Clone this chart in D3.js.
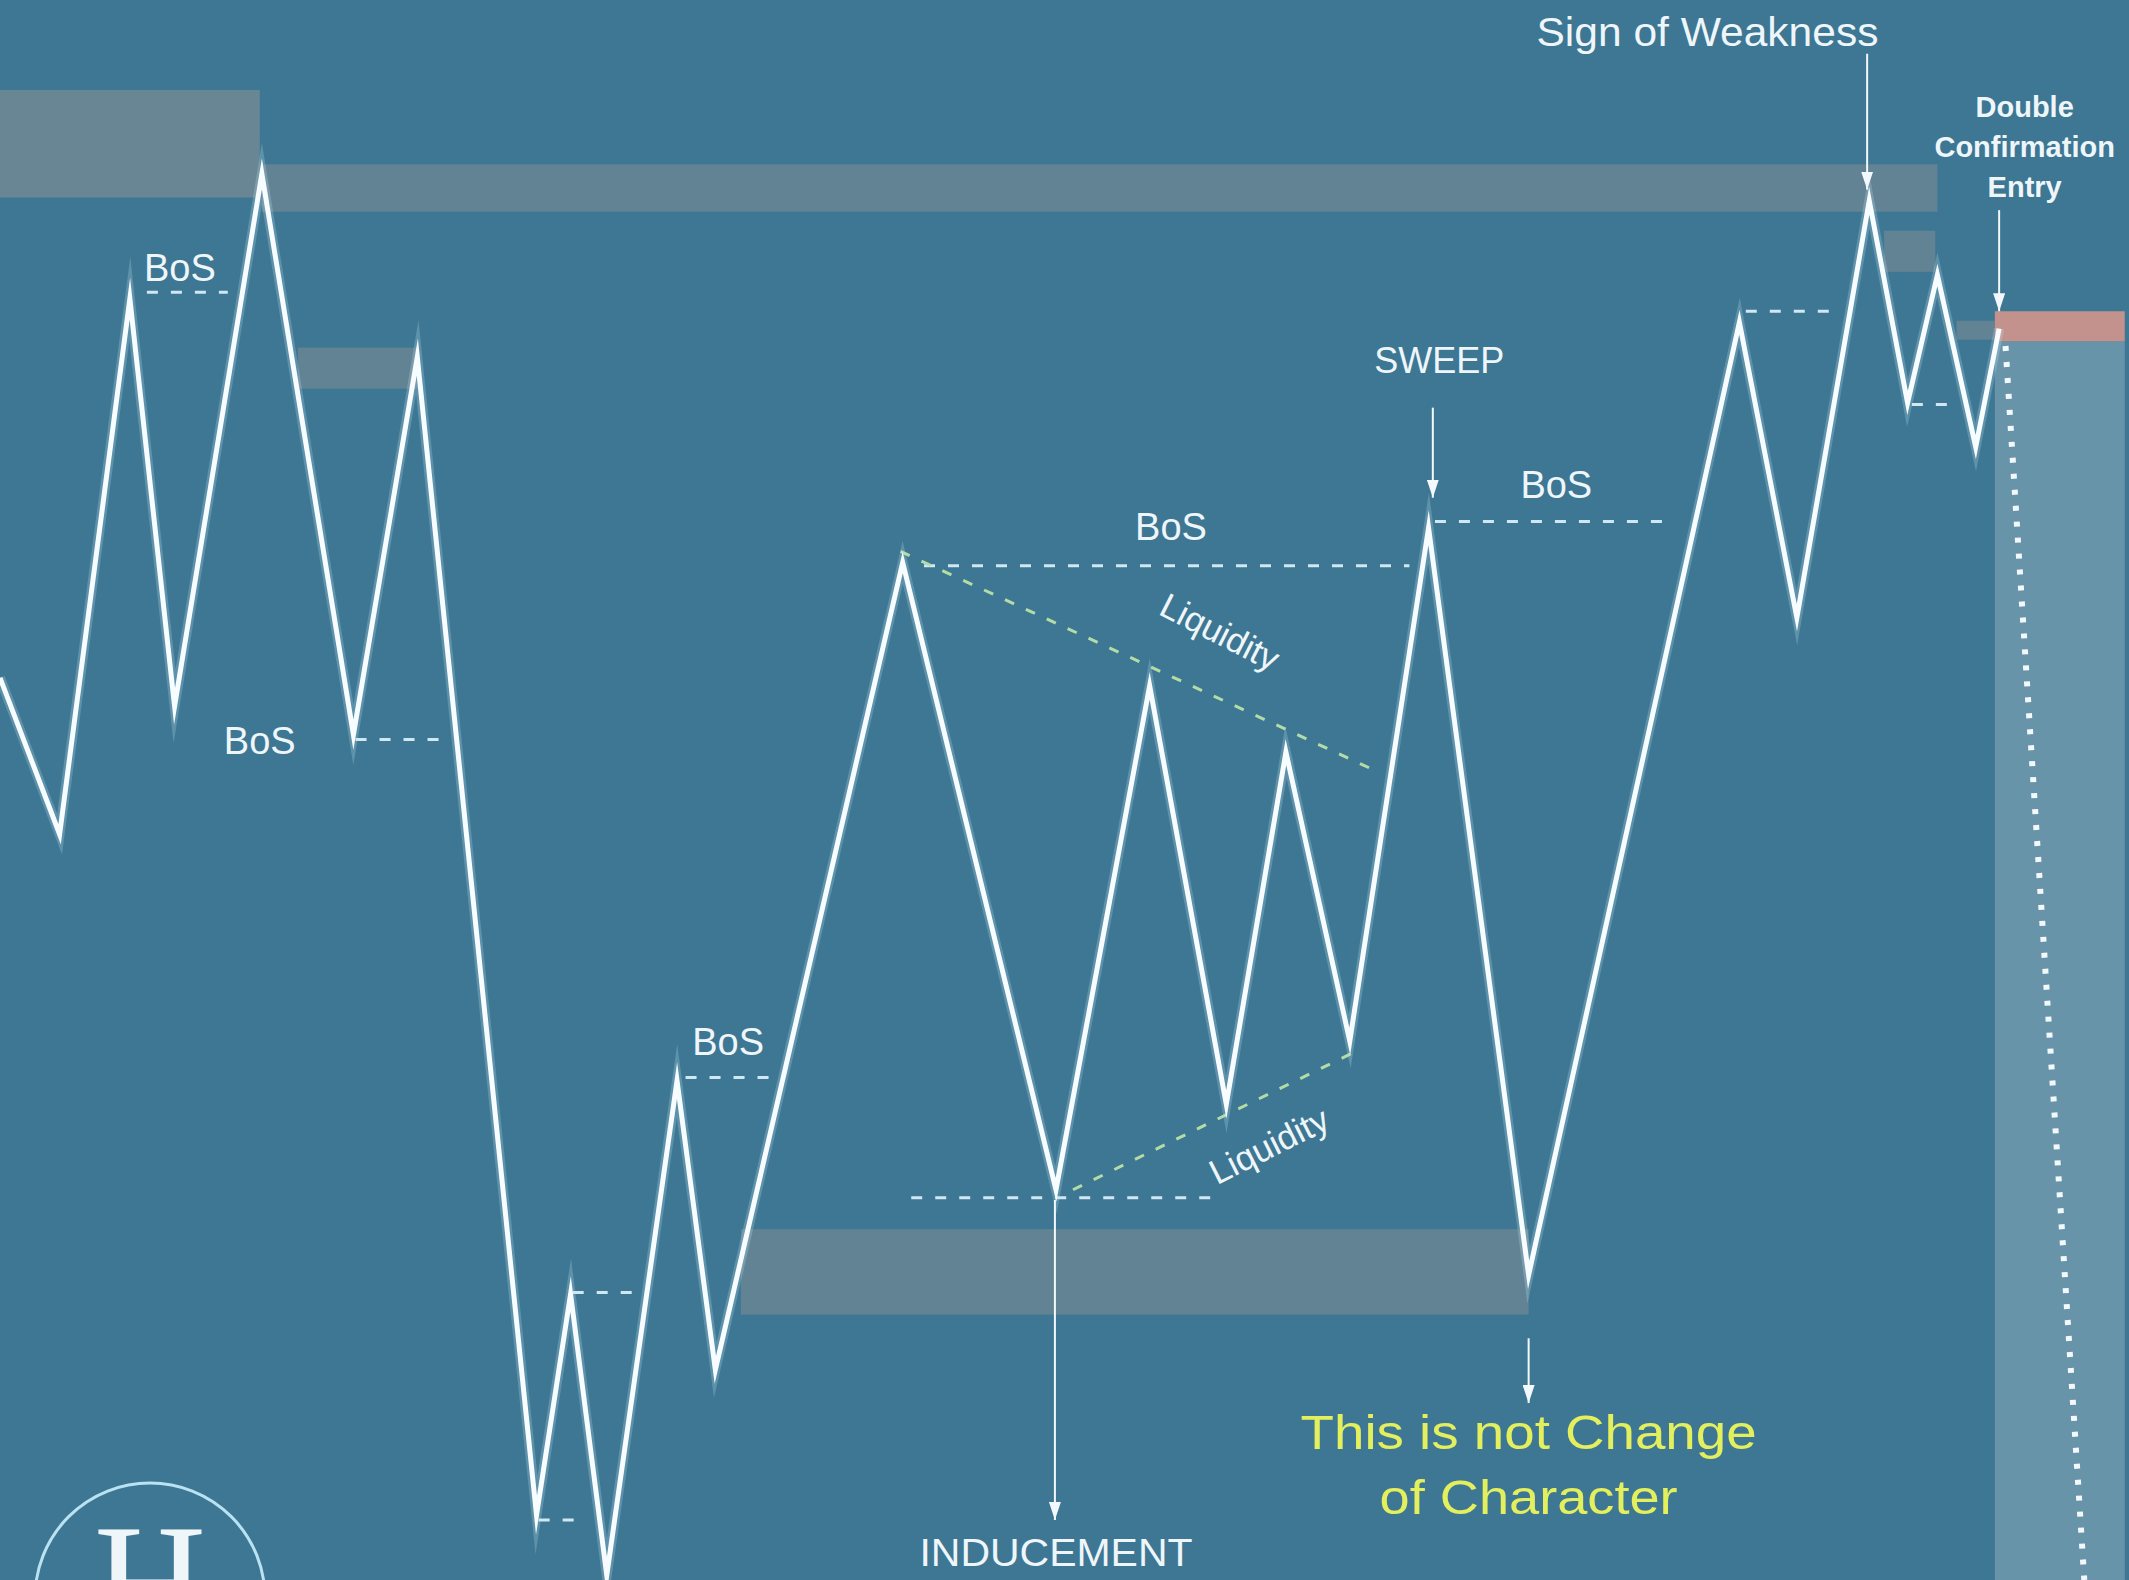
<!DOCTYPE html>
<html>
  <head>
    <meta charset="utf-8">
    <title>Market structure</title>
    <script src="https://d3js.org/d3.v7.min.js" charset="utf-8"></script>
    <style>
      body {
        margin: 0;
        overflow: hidden;
        background: #3e7793;
      }
      text {
        font-family: "Liberation Sans", Arial, sans-serif;
        fill: #eef6fa;
      }
    </style>
  </head>
  <body>
    <script type="text/javascript">
      // swing points of the price path (time 0-100, price 0-100)
      var swingT = [0, 2.8, 6.1, 8.2, 12.3, 16.6, 19.6, 25.2, 26.8, 28.5, 31.8, 33.6, 42.4, 49.6, 54.0, 57.6, 60.4, 63.4, 67.1, 71.8, 81.7, 84.4, 87.8, 89.6, 91.0, 92.8, 93.9];
      var swingP = [57.1, 47.2, 81.1, 55.3, 89.0, 53.5, 77.4, 4.1, 18.1, 0.3, 31.6, 13.3, 64.4, 24.7, 56.6, 30.1, 52.4, 34.1, 66.6, 19.3, 79.6, 60.9, 87.3, 74.5, 82.6, 71.7, 79.2];

      // grey supply / demand zones: [tStart, tEnd, pTop, pBottom]
      var zonesGray = [
        [0, 12.2, 94.3, 87.5],
        [12.3, 91.0, 89.6, 86.6],
        [14.0, 19.6, 78.0, 75.4],
        [88.5, 90.9, 85.4, 82.8],
        [91.9, 93.7, 79.7, 78.5],
        [34.8, 71.8, 22.2, 16.8]
      ];
      var zoneEntry = [93.7, 99.8, 80.3, 78.4];
      var zoneTarget = [93.7, 99.8, 78.4, 0];

      // dashed structure levels: [tStart, tEnd, price]
      var bosLevels = [
        [6.9, 10.7, 81.5],
        [16.7, 20.9, 53.2],
        [26.9, 29.9, 18.2],
        [25.3, 27.2, 3.8],
        [32.2, 36.2, 31.8],
        [43.4, 66.2, 64.2],
        [42.8, 57.2, 24.2],
        [67.4, 78.5, 67.0],
        [82.0, 86.1, 80.3],
        [89.8, 91.6, 74.4]
      ];
      // liquidity trend lines: [t1, p1, t2, p2]
      var liquidityLines = [
        [42.3, 65.1, 64.8, 51.1],
        [50.4, 24.7, 63.9, 33.6]
      ];
      var targetPath = [[94.2, 78.1], [97.9, 0]];

      // labels
      var bosLabels = [[8.45, 82.2], [12.2, 52.3], [34.2, 33.2], [55.0, 65.8], [73.1, 68.5]];
      var liquidityLabels = [[57.3, 60.0, 27], [59.6, 27.5, -26.6]];
      // arrows: [t, pFrom, pTo]
      var arrows = [
        [87.7, 96.6, 88.0],
        [93.9, 86.7, 80.3],
        [67.3, 74.2, 68.5],
        [49.55, 24.05, 3.8],
        [71.8, 15.3, 11.2]
      ];

      var width = 2129,
          height = 1580;

      var svg = d3.select("body").append("svg")
                  .attr("width", width)
                  .attr("height", height);

      var x = d3.scaleLinear().domain([0, 100]).range([0, width]);
      var y = d3.scaleLinear().domain([0, 100]).range([height, 0]);

      svg.append("rect")
        .attr("width", width)
        .attr("height", height)
        .attr("fill", "#3e7793");

      // arrow head, drawn pointing along +x so orient="auto" turns it down the line
      var defs = svg.append("defs");
      defs.append("marker")
        .attr("id", "head")
        .attr("viewBox", "0 0 18 12")
        .attr("refX", 18)
        .attr("refY", 6)
        .attr("markerWidth", 18)
        .attr("markerHeight", 12)
        .attr("markerUnits", "userSpaceOnUse")
        .attr("orient", "auto")
        .append("path")
        .attr("d", "M0,0 L18,6 L0,12 Z")
        .attr("fill", "#f2f8fb");

      // zones
      svg.append("g").selectAll("rect")
        .data(zonesGray)
        .enter()
        .append("rect")
        .attr("x", function(d) { return x(d[0]); })
        .attr("width", function(d) { return x(d[1]) - x(d[0]); })
        .attr("y", function(d) { return y(d[2]); })
        .attr("height", function(d) { return y(d[3]) - y(d[2]); })
        .attr("fill", "#8d9397")
        .attr("opacity", function(d, i) { return i == 0 ? 0.55 : 0.45; });

      svg.append("rect")
        .attr("x", x(zoneTarget[0]))
        .attr("width", x(zoneTarget[1]) - x(zoneTarget[0]))
        .attr("y", y(zoneTarget[2]))
        .attr("height", y(zoneTarget[3]) - y(zoneTarget[2]))
        .attr("fill", "#ffffff")
        .attr("opacity", 0.22);

      svg.append("rect")
        .attr("x", x(zoneEntry[0]))
        .attr("width", x(zoneEntry[1]) - x(zoneEntry[0]))
        .attr("y", y(zoneEntry[2]))
        .attr("height", y(zoneEntry[3]) - y(zoneEntry[2]))
        .attr("fill", "#c4928d");

      // dashed levels
      svg.append("g").selectAll("line")
        .data(bosLevels)
        .enter()
        .append("line")
        .attr("x1", function(d) { return x(d[0]); })
        .attr("x2", function(d) { return x(d[1]); })
        .attr("y1", function(d) { return y(d[2]); })
        .attr("y2", function(d) { return y(d[2]); })
        .attr("stroke", "#cfe8f3")
        .attr("stroke-width", 3)
        .attr("stroke-dasharray", "11 13");

      svg.append("g").selectAll("line")
        .data(liquidityLines)
        .enter()
        .append("line")
        .attr("x1", function(d) { return x(d[0]); })
        .attr("y1", function(d) { return y(d[1]); })
        .attr("x2", function(d) { return x(d[2]); })
        .attr("y2", function(d) { return y(d[3]); })
        .attr("stroke", "#b3dca6")
        .attr("stroke-width", 3)
        .attr("stroke-dasharray", "10 13");

      // dotted projection
      svg.append("path")
        .attr("d", d3.line().x(function(d) { return x(d[0]); }).y(function(d) { return y(d[1]); })(targetPath))
        .attr("stroke", "#f2f8fb")
        .attr("stroke-width", 6)
        .attr("stroke-dasharray", "5 11")
        .attr("fill", "none");

      // price path
      var points = swingT.map(function(t, i) { return [t, swingP[i]]; });
      var line = d3.line()
                   .x(function(d) { return x(d[0]); })
                   .y(function(d) { return y(d[1]); });

      svg.append("path")
        .attr("d", line(points))
        .attr("stroke", "#bfe4f3")
        .attr("stroke-width", 10)
        .attr("stroke-opacity", 0.25)
        .attr("stroke-linejoin", "miter")
        .attr("stroke-miterlimit", 20)
        .attr("fill", "none");

      svg.append("path")
        .attr("d", line(points))
        .attr("stroke", "#f7fcff")
        .attr("stroke-width", 5)
        .attr("stroke-linejoin", "miter")
        .attr("stroke-miterlimit", 20)
        .attr("fill", "none");

      // arrows
      svg.append("g").selectAll("line")
        .data(arrows)
        .enter()
        .append("line")
        .attr("x1", function(d) { return x(d[0]); })
        .attr("x2", function(d) { return x(d[0]); })
        .attr("y1", function(d) { return y(d[1]); })
        .attr("y2", function(d) { return y(d[2]); })
        .attr("stroke", "#f2f8fb")
        .attr("stroke-width", 2)
        .attr("marker-end", "url(#head)");

      // text
      svg.append("g").selectAll("text")
        .data(bosLabels)
        .enter()
        .append("text")
        .attr("x", function(d) { return x(d[0]); })
        .attr("y", function(d) { return y(d[1]); })
        .attr("text-anchor", "middle")
        .attr("font-size", 38)
        .text("BoS");

      svg.append("g").selectAll("text")
        .data(liquidityLabels)
        .enter()
        .append("text")
        .attr("transform", function(d) { return "translate(" + x(d[0]) + "," + y(d[1]) + ") rotate(" + d[2] + ")"; })
        .attr("text-anchor", "middle")
        .attr("dy", "0.35em")
        .attr("font-size", 35)
        .text("Liquidity");

      svg.append("text")
        .attr("x", x(80.2)).attr("y", y(97.1))
        .attr("text-anchor", "middle")
        .attr("font-size", 41)
        .attr("textLength", 342)
        .attr("lengthAdjust", "spacingAndGlyphs")
        .text("Sign of Weakness");

      var dce = svg.append("text")
        .attr("x", x(95.1)).attr("y", y(92.6))
        .attr("text-anchor", "middle")
        .attr("font-size", 29)
        .attr("font-weight", "bold");
      ["Double", "Confirmation", "Entry"].forEach(function(s, i) {
        dce.append("tspan").attr("x", x(95.1)).attr("dy", i ? 40 : 0).text(s);
      });

      svg.append("text")
        .attr("x", x(67.6)).attr("y", y(76.4))
        .attr("text-anchor", "middle")
        .attr("font-size", 36)
        .text("SWEEP");

      svg.append("text")
        .attr("x", x(49.6)).attr("y", y(0.9))
        .attr("text-anchor", "middle")
        .attr("font-size", 38)
        .attr("textLength", 273)
        .attr("lengthAdjust", "spacingAndGlyphs")
        .text("INDUCEMENT");

      svg.append("text")
        .attr("x", x(71.8)).attr("y", y(8.3))
        .attr("text-anchor", "middle")
        .attr("font-size", 48)
        .attr("textLength", 456)
        .attr("lengthAdjust", "spacingAndGlyphs")
        .style("fill", "#e4ef5e")
        .text("This is not Change");

      svg.append("text")
        .attr("x", x(71.8)).attr("y", y(4.2))
        .attr("text-anchor", "middle")
        .attr("font-size", 48)
        .attr("textLength", 298)
        .attr("lengthAdjust", "spacingAndGlyphs")
        .style("fill", "#e4ef5e")
        .text("of Character");

      // logo (cut by the bottom edge, as in the original)
      svg.append("circle")
        .attr("cx", 150).attr("cy", 1598).attr("r", 115)
        .attr("fill", "none")
        .attr("stroke", "#b9e2f2")
        .attr("stroke-width", 3);
      svg.append("text")
        .attr("x", 150).attr("y", 1640)
        .attr("text-anchor", "middle")
        .attr("font-size", 170)
        .attr("textLength", 112)
        .attr("lengthAdjust", "spacingAndGlyphs")
        .style("font-family", "'Liberation Serif', serif")
        .text("H");
    </script>
  </body>
</html>
